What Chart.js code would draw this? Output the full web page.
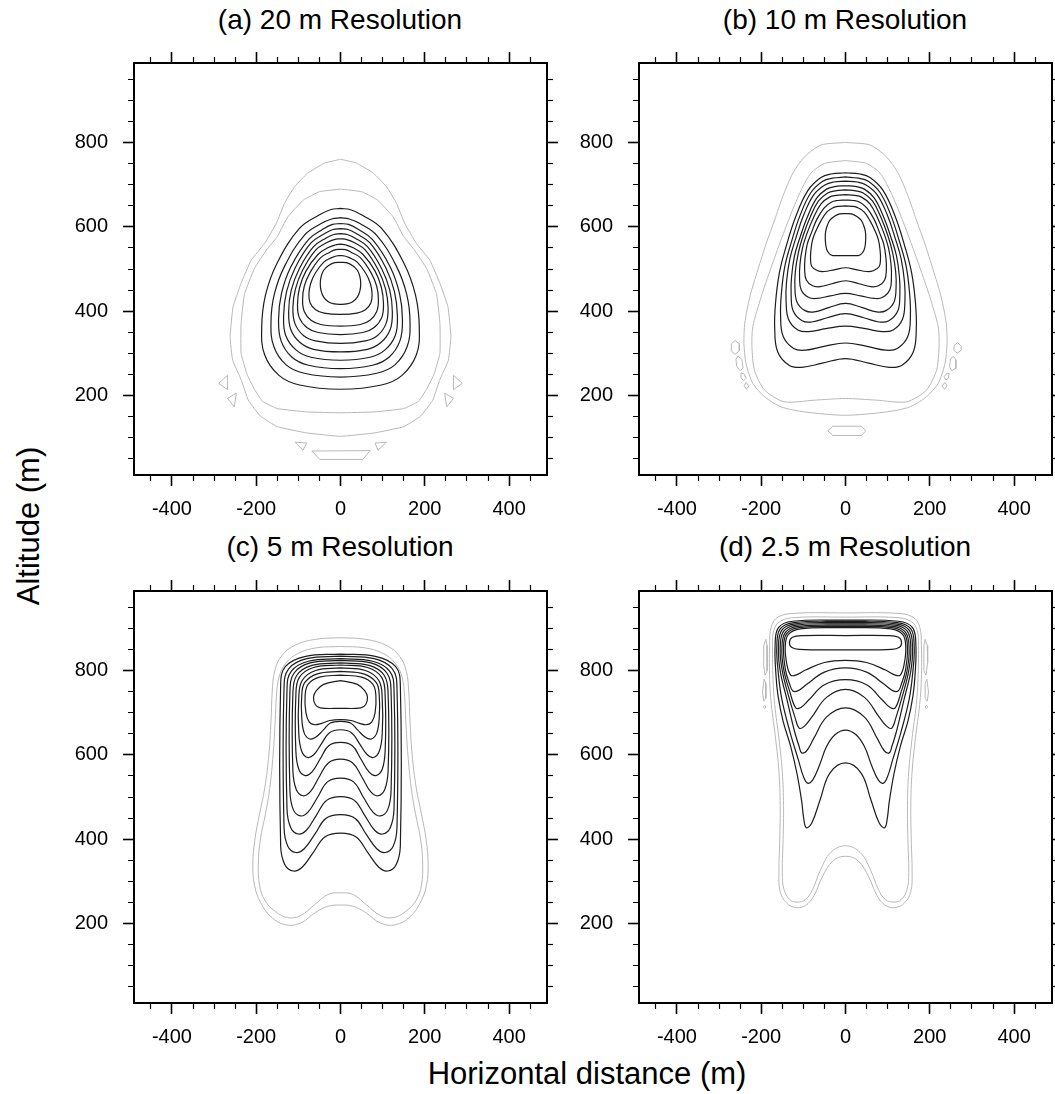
<!DOCTYPE html>
<html>
<head>
<meta charset="utf-8">
<script src="https://cdn.jsdelivr.net/npm/chart.js@4.4.1/dist/chart.umd.min.js"></script>
<style>
html, body { margin: 0; padding: 0; background: #fff; overflow: hidden; }
body { width: 1055px; height: 1094px; position: relative; font-family: 'Liberation Sans', Arial, sans-serif; color: #000; }
canvas { position: absolute; }
.title { position: absolute; width: 400px; text-align: center; font-size: 28px; line-height: 32px; white-space: nowrap; }
.axis { position: absolute; font-size: 31px; line-height: 36px; text-align: center; white-space: nowrap; }
</style>
</head>
<body>
<div class="title" style="left:140px; top:4px">(a) 20 m Resolution</div>
<div class="title" style="left:645px; top:4px">(b) 10 m Resolution</div>
<div class="title" style="left:140px; top:531px">(c) 5 m Resolution</div>
<div class="title" style="left:645px; top:531px">(d) 2.5 m Resolution</div>

<canvas id="panelA" width="500" height="485" style="left:60px; top:40px"></canvas>
<canvas id="panelB" width="500" height="485" style="left:565px; top:40px"></canvas>
<canvas id="panelC" width="500" height="485" style="left:60px; top:568px"></canvas>
<canvas id="panelD" width="500" height="485" style="left:565px; top:568px"></canvas>

<div class="axis" style="left:387px; top:1056px; width:400px">Horizontal distance (m)</div>
<div class="axis" style="left:-71px; top:508px; width:200px; transform:rotate(-90deg)">Altitude (m)</div>

<script>
// domain of every panel (m)
const xMin = -490, xMax = 490;
const yMin = 10, yMax = 990;
const xTickLabels = [-400, -200, 0, 200, 400];
const yTickLabels = [200, 400, 600, 800];

// contours, flat lists x0,y0,x1,y1,... (m), each one a closed loop

// (a) 20 m
const res20Black = [
  [0,644, 24,641, 52,628, 97,597, 150,515, 178,438, 187,360, 180,296, 146,247, 97,224, 0,214, -97,224, -146,247, -180,296, -187,360, -178,438, -150,515, -97,597, -52,628, -24,641],
  [0,622, 21,619, 46,608, 86,580, 132,508, 157,440, 165,372, 158,315, 129,272, 86,252, 0,243, -86,252, -129,272, -158,315, -165,372, -157,440, -132,508, -86,580, -46,608, -21,619],
  [0,608, 19,606, 41,595, 76,570, 118,505, 140,442, 147,380, 141,329, 115,290, 76,271, 0,263, -76,271, -115,290, -141,329, -147,380, -140,442, -118,505, -76,570, -41,595, -19,606],
  [0,596, 18,594, 38,584, 70,562, 108,502, 128,446, 135,389, 130,342, 105,307, 70,290, 0,283, -70,290, -105,307, -130,342, -135,389, -128,446, -108,502, -70,562, -38,584, -18,594],
  [0,584, 16,582, 34,574, 64,553, 98,500, 117,449, 123,399, 118,356, 96,325, 64,309, 0,303, -64,309, -96,325, -118,356, -123,399, -117,449, -98,500, -64,553, -34,574, -16,582],
  [0,572, 15,570, 32,563, 59,545, 90,497, 107,452, 113,408, 108,370, 88,342, 59,329, 0,323, -59,329, -88,342, -108,370, -113,408, -107,452, -90,497, -59,545, -32,563, -15,570],
  [0,559, 13,557, 29,551, 53,535, 82,495, 97,456, 102,417, 98,385, 80,361, 53,349, 0,344, -53,349, -80,361, -98,385, -102,417, -97,456, -82,495, -53,535, -29,551, -13,557],
  [0,547, 12,546, 25,540, 47,527, 72,492, 86,459, 90,426, 86,399, 70,378, 47,368, 0,364, -47,368, -70,378, -86,399, -90,426, -86,459, -72,492, -47,527, -25,540, -12,546],
  [0,532, 10,531, 21,527, 39,517, 60,490, 71,465, 75,440, 72,419, 59,403, 39,395, 0,392, -39,395, -59,403, -72,419, -75,440, -71,465, -60,490, -39,517, -21,527, -10,531],
  [0,516, 14,515, 29,508, 40,497, 46,482, 48,465, 46,448, 40,433, 29,422, 15,417, 0,416, -15,417, -29,422, -40,433, -46,448, -48,465, -46,482, -40,497, -29,508, -14,515]
];
const res20Gray = [
  [0,761, 38,752, 78,728, 109,696, 133,656, 152,609, 180,561, 212,521, 236,466, 255,410, 262,339, 256,283, 235,235, 219,188, 190,150, 150,125, 80,110, 0,102,
   -80,110, -150,125, -190,150, -219,188, -235,235, -256,283, -262,339, -255,410, -236,466, -212,521, -180,561, -152,609, -133,656, -109,696, -78,728, -38,752],
  [0,690, 50,684, 88,664, 125,624, 150,577, 175,546, 205,500, 228,440, 236,370, 236,300, 222,250, 205,215, 185,185, 150,168, 80,160, 0,158,
   -80,160, -150,168, -185,185, -205,215, -222,250, -236,300, -236,370, -228,440, -205,500, -175,546, -150,577, -125,624, -88,664, -50,684]
];
const res20Specks = [
  [-268,247, -289,228, -268,213],
  [-247,205, -268,192, -252,172],
  [268,247, 289,228, 268,213],
  [247,205, 268,192, 252,172],
  [-108,88, -80,86, -89,69],
  [82,86, 109,88, 89,69],
  [-68,67, 70,68, 53,47, -49,47]
];

// (b) 10 m
const res10Black = [
  [0,729, 34,726, 59,717, 89,687, 118,625, 141,553, 157,490, 166,419, 168,359, 161,303, 134,271, 104,266, 55,276, 0,287,
   -55,276, -104,266, -134,271, -161,303, -168,359, -166,419, -157,490, -141,553, -118,625, -89,687, -59,717, -34,726],
  [0,719, 31,716, 54,709, 82,682, 108,627, 129,562, 144,506, 152,443, 154,389, 148,340, 123,311, 95,307, 51,316, 0,324,
   -51,316, -95,307, -123,311, -148,340, -154,389, -152,443, -144,506, -129,562, -108,627, -82,682, -54,709, -31,716],
  [0,709, 28,707, 49,700, 75,677, 99,629, 118,573, 132,524, 140,469, 141,423, 135,380, 113,355, 87,351, 47,358, 0,364,
   -47,358, -87,351, -113,355, -135,380, -141,423, -140,469, -132,524, -118,573, -99,629, -75,677, -49,700, -28,707],
  [0,698, 26,696, 45,690, 68,669, 90,625, 108,575, 121,531, 128,481, 129,439, 124,400, 103,377, 80,374, 43,384, 0,394,
   -43,384, -80,374, -103,377, -124,400, -129,439, -128,481, -121,531, -108,575, -90,625, -68,669, -45,690, -26,696],
  [0,688, 24,686, 42,681, 64,662, 84,623, 101,578, 112,538, 119,494, 120,456, 115,421, 96,401, 74,398, 40,408, 0,418,
   -40,408, -74,398, -96,401, -115,421, -120,456, -119,494, -112,538, -101,578, -84,623, -64,662, -42,681, -24,686],
  [0,677, 22,675, 38,671, 58,655, 76,622, 92,583, 102,550, 108,512, 109,479, 105,450, 87,432, 68,430, 36,436, 0,442,
   -36,436, -68,430, -87,432, -105,450, -109,479, -108,512, -102,550, -92,583, -76,622, -58,655, -38,671, -22,675],
  [0,664, 19,663, 34,659, 51,645, 68,618, 81,586, 91,558, 96,526, 97,499, 93,474, 78,460, 60,458, 32,465, 0,472,
   -32,465, -60,458, -78,460, -93,474, -97,499, -96,526, -91,558, -81,586, -68,618, -51,645, -34,659, -19,663],
  [0,650, 17,649, 29,646, 44,636, 58,615, 70,591, 78,570, 82,545, 83,525, 80,506, 66,496, 51,494, 27,498, 0,503,
   -27,498, -51,494, -66,496, -80,506, -83,525, -82,545, -78,570, -70,591, -58,615, -44,636, -29,646, -17,649],
  [0,632, 14,631, 27,625, 37,616, 43,604, 47,590, 48,576, 47,558, 44,545, 38,536, 30,532, 15,532, 0,532,
   -15,532, -30,532, -38,536, -44,545, -47,558, -48,576, -47,590, -43,604, -37,616, -27,625, -14,631]
];
const res10Gray = [
  [0,801, 58,795, 97,767, 125,728, 149,672, 168,617, 188,561, 208,498, 227,434, 239,371, 241,323, 236,275, 220,228, 192,196, 153,172, 97,160, 0,152,
   -97,160, -153,172, -192,196, -220,228, -236,275, -241,323, -239,371, -227,434, -208,498, -188,561, -168,617, -149,672, -125,728, -97,767, -58,795],
  [0,758, 50,751, 82,728, 105,688, 129,632, 153,569, 176,505, 200,434, 220,363, 222,315, 216,259, 192,212, 145,184, 74,188, 0,192,
   -74,188, -145,184, -192,212, -216,259, -222,315, -220,363, -200,434, -176,505, -153,569, -129,632, -105,688, -82,728, -50,751]
];
const res10Specks = [
  [-262,330, -252,322, -252,305, -262,297, -271,305, -271,322],
  [-255,293, -246,285, -243,265, -250,258, -258,268, -260,285],
  [-248,253, -240,250, -236,240, -242,234, -248,242],
  [-236,230, -229,222, -235,214, -241,222],
  [266,325, 275,316, 274,306, 265,300, 257,307, 258,318],
  [256,292, 262,284, 262,264, 252,258, 247,268, 249,286],
  [246,252, 244,240, 238,236, 234,244, 240,252],
  [236,230, 241,222, 235,214, 229,222],
  [-30,126, 38,126, 48,115, 38,104, -30,104, -42,115]
];

// (c) 5 m
const res5Black = [
  [0,840, 85,834, 131,810, 142,765, 142,384, 132,339, 112,324, 91,333, 64,369, 37,405, 0,414, -37,405, -64,369, -91,333, -112,324, -132,339, -142,384, -142,765, -131,810, -85,834],
  [0,835, 80,829, 123,805, 134,760, 134,428, 125,383, 106,368, 86,377, 60,413, 35,449, 0,458, -35,449, -60,413, -86,377, -106,368, -125,383, -134,428, -134,760, -123,805, -80,829],
  [0,829, 76,823, 117,799, 127,754, 127,472, 118,427, 100,412, 81,421, 57,457, 33,492, 0,501, -33,492, -57,457, -81,421, -100,412, -118,427, -127,472, -127,754, -117,799, -76,823],
  [0,825, 72,819, 110,795, 120,750, 120,515, 112,470, 95,455, 77,464, 54,500, 31,536, 0,545, -31,536, -54,500, -77,464, -95,455, -112,470, -120,515, -120,750, -110,795, -72,819],
  [0,819, 68,813, 104,789, 113,744, 113,563, 105,518, 89,503, 72,512, 51,547, 29,581, 0,590, -29,581, -51,547, -72,512, -89,503, -105,518, -113,563, -113,744, -104,789, -68,813],
  [0,814, 64,808, 98,784, 106,739, 106,611, 99,566, 84,551, 68,559, 48,591, 28,622, 0,630, -28,622, -48,591, -68,559, -84,551, -99,566, -106,611, -106,739, -98,784, -64,808],
  [0,807, 59,801, 91,777, 99,735, 99,650, 92,609, 78,594, 63,601, 45,627, 26,653, 0,660, -26,653, -45,627, -63,601, -78,594, -92,609, -99,650, -99,735, -91,777, -59,801],
  [0,799, 55,793, 85,772, 92,740, 92,690, 86,652, 73,638, 59,642, 41,659, 24,676, 0,680, -24,676, -41,659, -59,642, -73,638, -86,652, -92,690, -92,740, -85,772, -55,793],
  [0,790, 50,785, 77,768, 84,740, 82,700, 74,678, 62,672, 45,675, 25,682, 0,684, -25,682, -45,675, -62,672, -74,678, -82,700, -84,740, -77,768, -50,785],
  [0,777, 40,768, 58,752, 64,738, 60,720, 48,712, 0,711, -48,712, -60,720, -64,738, -58,752, -40,768]
];
const res5Gray = [
  [0,879, 60,875, 110,860, 140,835, 156,800, 162,750, 165,680, 170,600, 180,520, 192,460, 203,400, 208,340, 204,290, 190,250, 165,215, 130,196, 95,200, 60,225, 30,240, 0,243,
   -30,240, -60,225, -95,200, -130,196, -165,215, -190,250, -204,290, -208,340, -203,400, -192,460, -180,520, -170,600, -165,680, -162,750, -156,800, -140,835, -110,860, -60,875],
  [0,858, 56,855, 100,842, 130,818, 146,785, 152,740, 155,680, 160,600, 168,520, 178,460, 190,400, 195,340, 192,290, 180,255, 155,228, 125,213, 95,218, 60,245, 30,268, 0,272,
   -30,268, -60,245, -95,218, -125,213, -155,228, -180,255, -192,290, -195,340, -190,400, -178,460, -168,520, -160,600, -155,680, -152,740, -146,785, -130,818, -100,842, -56,855]
];

// (d) 2.5 m
const res2p5Black = [
  [0,921, 125,918, 159,903, 167,861, 165,790, 160,740, 148,680, 130,620, 115,555, 104,490, 99,448, 93,427, 80,438, 60,494, 37,557, 0,581,
   -37,557, -60,494, -80,438, -93,427, -99,448, -104,490, -115,555, -130,620, -148,680, -160,740, -165,790, -167,861, -159,903, -125,918],
  [0,918, 122,915, 155,900, 163,858, 160,800, 151,732, 131,652, 112,589, 100,549, 90,533, 78,540, 62,575, 45,620, 25,648, 0,659,
   -25,648, -45,620, -62,575, -78,540, -90,533, -100,549, -112,589, -131,652, -151,732, -160,800, -163,858, -155,900, -122,915],
  [0,915, 119,912, 151,897, 159,855, 155,800, 139,732, 122,660, 110,620, 104,605, 92,610, 75,640, 45,690, 0,712,
   -45,690, -75,640, -92,610, -104,605, -110,620, -122,660, -139,732, -155,800, -159,855, -151,897, -119,912],
  [0,912, 116,909, 147,894, 155,852, 150,800, 135,740, 120,690, 110,664, 98,668, 80,690, 45,737, 0,756,
   -45,737, -80,690, -98,668, -110,664, -120,690, -135,740, -150,800, -155,852, -147,894, -116,909],
  [0,909, 113,906, 143,891, 151,850, 146,800, 132,750, 118,712, 106,713, 88,730, 50,767, 0,779,
   -50,767, -88,730, -106,713, -118,712, -132,750, -146,800, -151,850, -143,891, -113,906],
  [0,906, 110,903, 140,888, 147,850, 142,800, 133,770, 125,752, 112,753, 92,768, 50,797, 0,807,
   -50,797, -92,768, -112,753, -125,752, -133,770, -142,800, -147,850, -140,888, -110,903],
  [0,903, 107,900, 136,886, 143,855, 139,815, 130,790, 118,790, 95,802, 50,820, 0,825,
   -50,820, -95,802, -118,790, -130,790, -139,815, -143,855, -136,886, -107,900],
  [0,884, 100,884, 126,880, 133,868, 128,856, 110,851, 0,850, -110,851, -128,856, -133,868, -126,880, -100,884]
];
const res2p5Gray = [
  [0,938, 120,937, 160,928, 176,905, 180,860, 180,780, 176,720, 166,640, 158,560, 155,480, 156,400, 158,320, 155,275, 140,248, 118,237, 95,242, 75,265, 55,310, 30,348, 0,359,
   -30,348, -55,310, -75,265, -95,242, -118,237, -140,248, -155,275, -158,320, -156,400, -155,480, -158,560, -166,640, -176,720, -180,780, -180,860, -176,905, -160,928, -120,937],
  [0,928, 118,927, 155,918, 170,897, 173,860, 172,780, 168,720, 158,640, 150,560, 147,480, 148,400, 150,320, 146,280, 132,256, 115,250, 95,256, 78,280, 60,325, 35,368, 0,384,
   -35,368, -60,325, -78,280, -95,256, -115,250, -132,256, -146,280, -150,320, -148,400, -147,480, -150,560, -158,640, -168,720, -172,780, -173,860, -170,897, -155,918, -118,927]
];
const res2p5Specks = [
  [-189,875, -186,860, -186,800, -191,790, -195,820, -194,860],
  [-193,780, -189,770, -189,735, -194,728, -197,750],
  [-192,718, -189,714, -192,710, -195,714],
  [189,875, 194,860, 195,820, 191,790, 186,800, 186,860],
  [193,780, 197,750, 194,728, 189,735, 189,770],
  [192,718, 195,714, 192,710, 189,714]
];

const blackLine = '#1c1c1c';
const grayLine = '#b8b8b8';

function toPoints(flat) {
  const pts = [];
  for (let i = 0; i < flat.length; i += 2) pts.push({ x: flat[i], y: flat[i + 1] });
  pts.push(pts[0]); // close the loop
  return pts;
}

function contourSets(loops, color, width, tension) {
  return loops.map(flat => ({
    data: toPoints(flat),
    borderColor: color,
    borderWidth: width,
    tension: tension,
    pointRadius: 0,
    fill: false
  }));
}

function isMajor(ctx) {
  return !!ctx.tick && ctx.tick.value % 200 === 0;
}

// ticks point outwards; minor ones keep only the 5px next to the frame
function tickMarks(drawnFromOutside) {
  return {
    drawOnChartArea: false,
    drawTicks: true,
    tickLength: 11,
    tickColor: '#000',
    tickWidth: ctx => isMajor(ctx) ? 1.6 : 1.2,
    tickBorderDash: ctx => isMajor(ctx) ? [] : (drawnFromOutside ? [0, 5, 5, 100] : [5, 100])
  };
}

function frameScales() {
  const base = { type: 'linear', border: { display: true, color: '#000', width: 2 } };
  const tickBase = {
    stepSize: 50, includeBounds: false, autoSkip: false, maxRotation: 0, minRotation: 0,
    color: '#000', font: { family: 'Liberation Sans', size: 20 }
  };
  return {
    x: { ...base, min: xMin, max: xMax, position: 'bottom', grid: tickMarks(false),
      ticks: { ...tickBase, padding: 11, callback: v => xTickLabels.includes(v) ? String(v) : '' },
      afterFit: s => { s.height = 50; s.paddingLeft = 0; s.paddingRight = 0; } },
    x2: { ...base, min: xMin, max: xMax, position: 'top', grid: tickMarks(true),
      ticks: { ...tickBase, display: false },
      afterFit: s => { s.height = 23; s.paddingLeft = 0; s.paddingRight = 0; } },
    y: { ...base, min: yMin, max: yMax, position: 'left', grid: tickMarks(true),
      ticks: { ...tickBase, padding: 15, callback: v => yTickLabels.includes(v) ? String(v) : '' },
      afterFit: s => { s.width = 74; s.paddingTop = 0; s.paddingBottom = 0; } },
    y2: { ...base, min: yMin, max: yMax, position: 'right', grid: tickMarks(false),
      ticks: { ...tickBase, display: false },
      afterFit: s => { s.width = 13; s.paddingTop = 0; s.paddingBottom = 0; } }
  };
}

function drawPanel(id, datasets) {
  new Chart(document.getElementById(id), {
    type: 'line',
    data: { datasets: datasets },
    options: {
      responsive: false,
      animation: false,
      events: [],
      layout: { padding: 0 },
      plugins: { legend: { display: false }, tooltip: { enabled: false } },
      scales: frameScales()
    }
  });
}

drawPanel('panelA', [
  ...contourSets(res20Black, blackLine, 1.2, 0.4),
  ...contourSets(res20Gray, grayLine, 1, 0.1),
  ...contourSets(res20Specks, grayLine, 1, 0)
]);
drawPanel('panelB', [
  ...contourSets(res10Black, blackLine, 1.2, 0.4),
  ...contourSets(res10Gray, grayLine, 1, 0.25),
  ...contourSets(res10Specks, grayLine, 1, 0)
]);
drawPanel('panelC', [
  ...contourSets(res5Black, blackLine, 1.2, 0.4),
  ...contourSets(res5Gray, grayLine, 1, 0.4)
]);
drawPanel('panelD', [
  ...contourSets(res2p5Black, blackLine, 1.2, 0.4),
  ...contourSets(res2p5Gray, grayLine, 1, 0.4),
  ...contourSets(res2p5Specks, grayLine, 1, 0)
]);
</script>
</body>
</html>
